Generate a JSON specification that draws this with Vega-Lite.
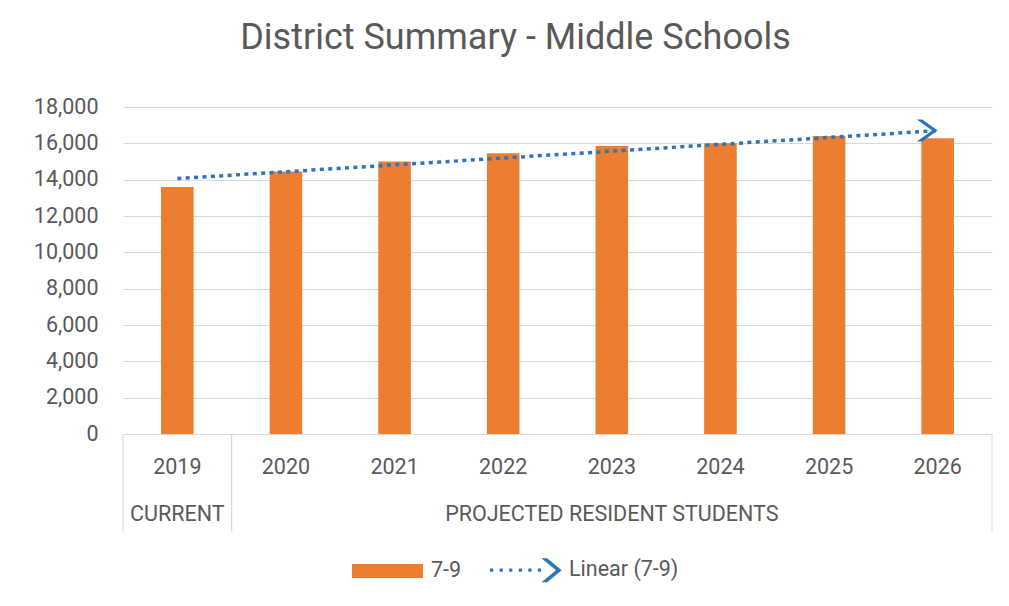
{
  "$schema": "https://vega.github.io/schema/vega-lite/v6.json",
  "width": 869,
  "height": 327,
  "autosize": {"type": "none"},
  "padding": {"left": 123, "top": 107, "right": 17, "bottom": 172},
  "background": "white",
  "config": {
    "view": {"stroke": null},
    "font": "Roboto",
    "axisY": {
      "title": null,
      "labelFont": "Roboto",
      "labelFontSize": 21.5,
      "labelColor": "#595959",
      "labelPadding": 25,
      "ticks": false,
      "domain": false,
      "gridColor": "#D9D9D9",
      "gridWidth": 1,
      "labelOverlap": false
    },
    "axisX": {
      "title": null,
      "labelAngle": 0,
      "labelFont": "Roboto",
      "labelFontSize": 21.5,
      "labelColor": "#595959",
      "labelPadding": 22,
      "ticks": false,
      "domainColor": "#D9D9D9",
      "domainWidth": 1,
      "grid": false
    }
  },
  "title": {
    "text": "District Summary - Middle Schools",
    "font": "Roboto",
    "fontSize": 36,
    "fontWeight": "normal",
    "color": "#595959",
    "anchor": "middle",
    "dx": -42,
    "offset": 39
  },
  "data": {
    "values": [
      {"year": 2019, "group": "CURRENT", "series": "7-9", "students": 13600, "trend": 14060},
      {"year": 2020, "group": "PROJECTED RESIDENT STUDENTS", "series": "7-9", "students": 14450, "trend": null},
      {"year": 2021, "group": "PROJECTED RESIDENT STUDENTS", "series": "7-9", "students": 15000, "trend": null},
      {"year": 2022, "group": "PROJECTED RESIDENT STUDENTS", "series": "7-9", "students": 15450, "trend": null},
      {"year": 2023, "group": "PROJECTED RESIDENT STUDENTS", "series": "7-9", "students": 15850, "trend": null},
      {"year": 2024, "group": "PROJECTED RESIDENT STUDENTS", "series": "7-9", "students": 16000, "trend": null},
      {"year": 2025, "group": "PROJECTED RESIDENT STUDENTS", "series": "7-9", "students": 16400, "trend": null},
      {"year": 2026, "group": "PROJECTED RESIDENT STUDENTS", "series": "7-9", "students": 16280, "trend": 16700}
    ]
  },
  "layer": [
    {
      "mark": {"type": "bar", "width": {"band": 0.3}, "color": "#ED7D31"},
      "encoding": {
        "x": {
          "field": "year",
          "type": "ordinal",
          "scale": {"paddingInner": 0, "paddingOuter": 0},
          "axis": {"title": null}
        },
        "y": {
          "field": "students",
          "type": "quantitative",
          "scale": {"domain": [0, 18000], "nice": false},
          "axis": {"title": null, "values": [0, 2000, 4000, 6000, 8000, 10000, 12000, 14000, 16000, 18000], "format": ",.0f"}
        },
        "color": {
          "field": "series",
          "type": "nominal",
          "scale": {"domain": ["7-9", "Linear (7-9)"], "range": ["#ED7D31", "#2E75B6"]},
          "legend": {
            "orient": "none",
            "legendX": 229,
            "legendY": 427.5,
            "direction": "horizontal",
            "title": null,
            "labelFont": "Roboto",
            "labelFontSize": 21.5,
            "labelColor": "#595959",
            "symbolSize": 5041,
            "labelOffset": 8,
            "columnPadding": 28,
            "encode": {
              "symbols": {
                "update": {
                  "shape": {"signal": "datum.value === '7-9' ? 'M-1,-0.2H1V0.2H-1Z' : 'M-1,-0.045h0.09v0.09h-0.09Z M-0.73,-0.045h0.09v0.09h-0.09Z M-0.46,-0.045h0.09v0.09h-0.09Z M-0.19,-0.045h0.09v0.09h-0.09Z M0.08,-0.045h0.09v0.09h-0.09Z M0.35,-0.045h0.09v0.09h-0.09Z M0.45,-0.34L0.61,-0.34L1.02,0L0.61,0.34L0.45,0.34L0.86,0Z'"},
                  "fill": {"signal": "datum.value === '7-9' ? '#ED7D31' : '#2E75B6'"},
                  "strokeWidth": {"value": 0},
                  "opacity": {"value": 1}
                }
              }
            }
          }
        }
      }
    },
    {
      "transform": [{"filter": "isValid(datum.trend)"}],
      "mark": {"type": "line", "strokeWidth": 3.5, "strokeDash": [4, 4.4], "strokeCap": "butt"},
      "encoding": {
        "x": {"field": "year", "type": "ordinal", "axis": {"title": null}},
        "y": {
          "field": "trend",
          "type": "quantitative",
          "axis": {"title": null, "values": [0, 2000, 4000, 6000, 8000, 10000, 12000, 14000, 16000, 18000], "format": ",.0f"}
        },
        "color": {"datum": "Linear (7-9)"}
      }
    },
    {
      "transform": [{"filter": "isValid(datum.trend) && datum.year === 2026"}],
      "mark": {
        "type": "point",
        "shape": "M-1.9,-1L-1.4,-1L0,0L-1.4,1L-1.9,1L-0.5,0Z",
        "size": 484,
        "filled": true,
        "fill": "#2E75B6",
        "opacity": 1,
        "strokeWidth": 0
      },
      "encoding": {
        "x": {"field": "year", "type": "ordinal", "axis": {"title": null}},
        "y": {
          "field": "trend",
          "type": "quantitative",
          "axis": {"title": null, "values": [0, 2000, 4000, 6000, 8000, 10000, 12000, 14000, 16000, 18000], "format": ",.0f"}
        }
      }
    },
    {
      "transform": [{"aggregate": [{"op": "median", "field": "year", "as": "mid"}], "groupby": ["group"]}],
      "mark": {"type": "text", "dy": 81, "baseline": "middle", "align": "center", "font": "Roboto", "fontSize": 21.5, "color": "#595959"},
      "encoding": {
        "x": {"field": "mid", "type": "ordinal", "axis": {"title": null}},
        "y": {
          "datum": 0,
          "type": "quantitative",
          "axis": {"title": null, "values": [0, 2000, 4000, 6000, 8000, 10000, 12000, 14000, 16000, 18000], "format": ",.0f"}
        },
        "text": {"field": "group"}
      }
    },
    {
      "transform": [{"aggregate": [{"op": "min", "field": "year", "as": "first"}], "groupby": ["group"]}],
      "mark": {"type": "rule", "color": "#D9D9D9", "strokeWidth": 1, "y2Offset": 98},
      "encoding": {
        "x": {"field": "first", "type": "ordinal", "bandPosition": 0, "axis": {"title": null}},
        "y": {
          "datum": 0,
          "type": "quantitative",
          "axis": {"title": null, "values": [0, 2000, 4000, 6000, 8000, 10000, 12000, 14000, 16000, 18000], "format": ",.0f"}
        },
        "y2": {"datum": 0}
      }
    },
    {
      "transform": [{"aggregate": [{"op": "max", "field": "year", "as": "last"}], "groupby": ["group"]}],
      "mark": {"type": "rule", "color": "#D9D9D9", "strokeWidth": 1, "y2Offset": 98},
      "encoding": {
        "x": {"field": "last", "type": "ordinal", "bandPosition": 1, "axis": {"title": null}},
        "y": {
          "datum": 0,
          "type": "quantitative",
          "axis": {"title": null, "values": [0, 2000, 4000, 6000, 8000, 10000, 12000, 14000, 16000, 18000], "format": ",.0f"}
        },
        "y2": {"datum": 0}
      }
    }
  ]
}
